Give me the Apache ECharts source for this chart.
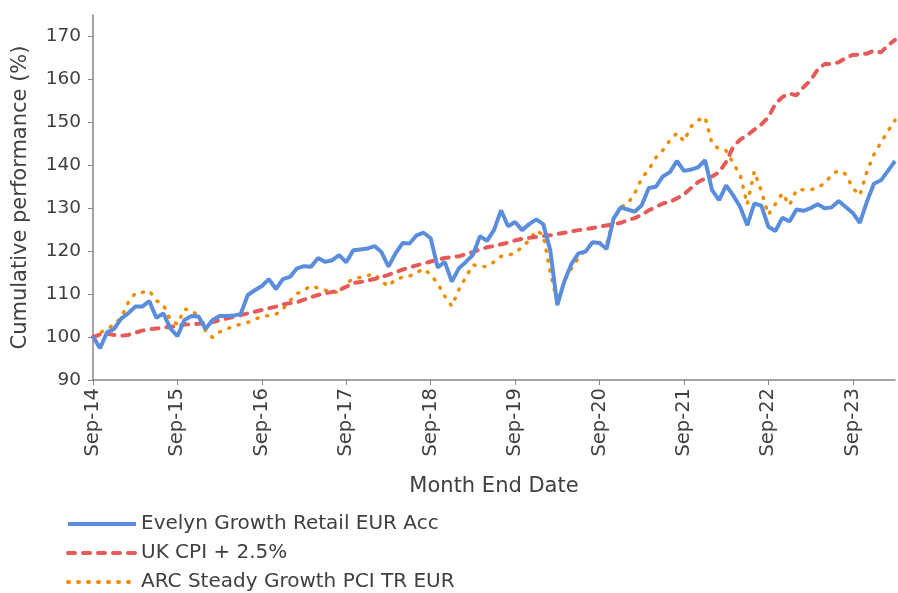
<!DOCTYPE html>
<html>
<head>
<meta charset="utf-8">
<script src="https://cdn.jsdelivr.net/npm/echarts@6/dist/echarts.min.js"></script>
<style>
  html, body { margin: 0; padding: 0; background: #fff; }
  #chart { width: 898px; height: 593px; }
</style>
</head>
<body>
<div id="chart"></div>
<script>
// month end dates, Sep-14 .. Mar-24
const monthNames = ['Jan','Feb','Mar','Apr','May','Jun','Jul','Aug','Sep','Oct','Nov','Dec'];
const dates = [];
for (let k = 0; k < 115; k++) {
  const m = (8 + k) % 12;
  const y = 14 + Math.floor((8 + k) / 12);
  dates.push(monthNames[m] + '-' + y);
}

const yTicks = [90, 100, 110, 120, 130, 140, 150, 160, 170];

const fundName = 'Evelyn Growth Retail EUR Acc';
const cpiName = 'UK CPI + 2.5%';
const sectorName = 'ARC Steady Growth PCI TR EUR';

const fundValues = [
  100.1, 97.4, 101.1, 101.9, 104.3, 105.5, 107.1, 107.1, 108.4, 104.5,
  105.5, 102.0, 100.2, 104.0, 104.9, 104.8, 101.9, 104.0, 104.9, 104.9,
  105.0, 105.4, 109.8, 110.9, 111.9, 113.5, 111.2, 113.5, 114.0, 116.0,
  116.5, 116.4, 118.4, 117.5, 117.9, 119.1, 117.4, 120.2, 120.4, 120.6,
  121.2, 119.8, 116.4, 119.5, 121.9, 121.8, 123.7, 124.3, 123.0, 116.2,
  117.5, 112.9, 116.0, 117.5, 119.1, 123.5, 122.4, 124.9, 129.5, 125.8,
  126.8, 124.9, 126.3, 127.4, 126.3, 120.2, 107.4, 113.0, 117.0, 119.5,
  119.9, 122.1, 121.9, 120.5, 127.6, 130.2, 129.7, 129.2, 130.7, 134.7,
  135.0, 137.4, 138.4, 141.0, 138.7, 139.0, 139.5, 141.2, 134.2, 131.9,
  135.3, 133.0, 130.3, 126.0, 131.1, 130.6, 125.7, 124.7, 127.8, 126.9,
  129.7, 129.4, 130.0, 130.9, 130.0, 130.2, 131.7, 130.3, 128.9, 126.6,
  131.5, 135.7, 136.5, 138.7, 141.0
];

const cpiValues = [
  100.0, 100.6, 100.8, 100.5, 100.3, 100.5, 101.0, 101.5, 101.8, 102.0,
  102.2, 102.4, 102.6, 102.9, 103.0, 103.1, 103.3, 103.5, 103.9, 104.3,
  104.7, 105.1, 105.5, 105.9, 106.3, 106.7, 107.1, 107.6, 107.9, 108.1,
  108.7, 109.3, 109.8, 110.2, 110.5, 110.9, 111.7, 112.6, 112.8, 113.2,
  113.5, 114.0, 114.5, 115.1, 115.7, 116.2, 116.7, 117.1, 117.6, 118.0,
  118.4, 118.6, 118.8, 119.3, 119.8, 120.4, 120.9, 121.2, 121.6, 122.0,
  122.5, 122.9, 123.1, 123.3, 123.5, 123.7, 124.0, 124.3, 124.6, 124.9,
  125.1, 125.4, 125.7, 126.0, 126.3, 126.6, 127.2, 127.7, 128.5, 129.5,
  130.3, 131.1, 131.5, 132.3, 133.2, 134.7, 136.1, 136.9, 137.4, 138.4,
  140.8, 144.3, 146.0, 147.0, 148.3, 149.5, 151.2, 154.3, 155.9, 156.7,
  156.3, 158.2, 159.8, 162.3, 163.6, 163.6, 164.0, 165.0, 165.7, 165.8,
  166.0, 166.7, 166.3, 167.9, 169.2
];

const sectorValues = [
  100.0, 101.0, 101.9, 102.9, 104.5, 108.0, 110.2, 110.4, 110.8, 108.5,
  107.5, 104.0, 103.0, 106.5, 106.3, 104.8, 101.5, 99.9, 101.2, 101.9,
  102.5, 103.0, 103.4, 104.1, 104.8, 105.0, 105.3, 106.5, 108.5, 110.1,
  111.0, 111.9, 111.4, 110.9, 110.6, 110.3, 112.5, 113.6, 113.9, 114.3,
  114.7, 113.0, 111.8, 113.5, 113.9, 114.2, 115.0, 115.9, 114.5, 112.5,
  109.5, 107.2, 111.0, 114.0, 116.8, 116.5, 116.4, 117.5, 118.8, 119.1,
  119.5, 121.0, 122.5, 124.8, 123.8, 115.0, 108.0, 113.0, 116.0, 118.4,
  120.3, 121.8, 122.0, 121.6, 127.3, 130.3, 131.0, 133.5, 137.0, 139.0,
  141.8, 143.5, 145.8, 147.5, 145.6, 149.0, 150.5, 151.2, 145.0, 143.8,
  143.4, 140.5, 137.7, 130.9, 138.6, 134.0, 128.5, 131.0, 133.5, 130.7,
  134.3, 134.3, 134.3, 134.8, 135.8, 137.8, 138.8, 137.9, 134.7, 133.0,
  138.5, 142.5, 145.3, 148.0, 150.5
];

const fontFamily = 'DejaVu Sans';
const textColor = '#404040';
const axisColor = '#868686';

// one legend per row, stacked like the original
function legendRow(name, top) {
  return {
    orient: 'vertical',
    left: 66,
    top: top,
    padding: 0,
    itemWidth: 68,
    itemHeight: 14,
    data: [name],
    itemStyle: { opacity: 0 },
    lineStyle: { width: 4 },
    textStyle: { color: textColor, fontSize: 20, fontFamily: fontFamily }
  };
}

const chart = echarts.init(document.getElementById('chart'));
chart.setOption({
  animation: false,
  textStyle: { fontFamily: fontFamily },
  grid: { left: 93, right: 3, top: 15, bottom: 213, containLabel: false, outerBoundsMode: 'none' },
  legend: [
    legendRow(fundName, 514),
    legendRow(cpiName, 543),
    legendRow(sectorName, 572)
  ],
  xAxis: {
    type: 'category',
    data: dates,
    boundaryGap: false,
    name: 'Month End Date',
    nameLocation: 'middle',
    nameGap: 96,
    nameTextStyle: { color: textColor, fontSize: 21 },
    axisLine: { lineStyle: { color: axisColor, width: 1.5 } },
    axisTick: { interval: 11, length: 5, lineStyle: { color: axisColor } },
    axisLabel: {
      interval: 11,
      rotate: 90,
      margin: 8,
      color: textColor,
      fontSize: 19.5
    },
    splitLine: { show: false }
  },
  yAxis: {
    type: 'value',
    min: 90,
    max: 175,
    interval: 10,
    name: 'Cumulative performance (%)',
    nameLocation: 'middle',
    nameGap: 62,
    nameTextStyle: { color: textColor, fontSize: 21 },
    axisLine: { show: true, lineStyle: { color: axisColor, width: 1.5 } },
    axisTick: { show: true, length: 5, customValues: yTicks, lineStyle: { color: axisColor } },
    axisLabel: {
      margin: 12,
      color: textColor,
      fontSize: 18.5,
      customValues: yTicks
    },
    splitLine: { show: false }
  },
  series: [
    {
      name: fundName,
      type: 'line',
      data: fundValues,
      symbol: 'none',
      lineStyle: { color: '#5A8EDC', width: 4 },
      itemStyle: { color: '#5A8EDC' },
      z: 3
    },
    {
      name: cpiName,
      type: 'line',
      data: cpiValues,
      symbol: 'none',
      lineStyle: { color: '#E65A5A', width: 4, type: [7, 8], cap: 'round' },
      itemStyle: { color: '#E65A5A' },
      z: 2
    },
    {
      name: sectorName,
      type: 'line',
      data: sectorValues,
      symbol: 'none',
      lineStyle: { color: '#F08C00', width: 3.5, type: [1, 9], cap: 'round' },
      itemStyle: { color: '#F08C00' },
      z: 1
    }
  ]
});
</script>
</body>
</html>
